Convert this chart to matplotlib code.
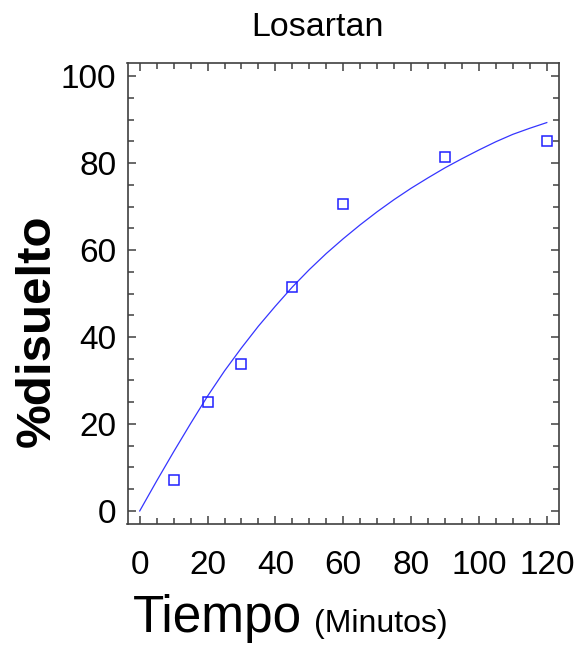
import matplotlib
matplotlib.use("Agg")
import matplotlib.pyplot as plt
from matplotlib.ticker import MultipleLocator

plt.rcParams['font.family'] = ['Liberation Sans', 'DejaVu Sans']

# Observed dissolution data
time_obs = [10, 20, 30, 45, 60, 90, 120]
diss_obs = [7.1, 25.0, 33.8, 51.5, 70.6, 81.4, 85.1]

# Fitted curve
time_fit = [0, 5, 10, 15, 20, 25, 30, 35, 40, 45, 50, 55, 60, 65, 70, 75, 80,
            85, 90, 95, 100, 105, 110, 115, 120]
diss_fit = [0.0, 6.9, 13.6, 20.1, 26.4, 32.2, 37.5, 42.5, 47.1, 51.5, 55.5,
            59.2, 62.6, 65.8, 68.8, 71.6, 74.2, 76.6, 78.9, 81.0, 83.0, 84.9,
            86.6, 88.0, 89.3]

title = "Losartan"
xlabel_main = "Tiempo"
xlabel_unit = "(Minutos)"
ylabel = "%disuelto"
xticks = [0, 20, 40, 60, 80, 100, 120]
yticks = [0, 20, 40, 60, 80, 100]

W, H = 579, 646
fig = plt.figure(figsize=(W / 100, H / 100), dpi=100)
ax = fig.add_axes([127.5 / W, 1 - 524 / H, (559 - 127.5) / W, (524 - 63) / H])

ax.plot(time_fit, diss_fit, color='#3535ff', lw=0.9)
ax.plot(time_obs, diss_obs, ls='none', marker='s', ms=6.5, mfc='none',
        mec='#2020ff', mew=1.1)

ax.set_xlim(-3.6, 123.6)
ax.set_ylim(-3, 103)
ax.set_xticks(xticks)
ax.set_yticks(yticks)
ax.xaxis.set_minor_locator(MultipleLocator(5))
ax.yaxis.set_minor_locator(MultipleLocator(5))
for s in ax.spines.values():
    s.set_color('#404040')
    s.set_linewidth(1.2)
ax.tick_params(which='both', direction='in', top=True, right=True, color='#404040', width=1.1)
ax.tick_params(which='major', length=6)
ax.tick_params(which='minor', length=4)
ax.tick_params(axis='x', which='major', labelsize=24, pad=19)
ax.tick_params(axis='y', which='major', labelsize=24, pad=8)

fig.text(317 / W, 1 - 36 / H, title, ha='center', va='baseline', fontsize=24.5)
fig.text(37 / W, 1 - 331 / H, ylabel, ha='center', va='center', rotation=90,
         fontsize=35.5, fontweight='bold')
t1 = fig.text(133 / W, 1 - 632 / H, xlabel_main, ha='left', va='baseline', fontsize=37)
fig.canvas.draw()
bb = t1.get_window_extent()
fig.text((bb.x1 + 12) / W, 1 - 632 / H, xlabel_unit, ha='left', va='baseline', fontsize=23)

fig.savefig("out.png", dpi=100)
